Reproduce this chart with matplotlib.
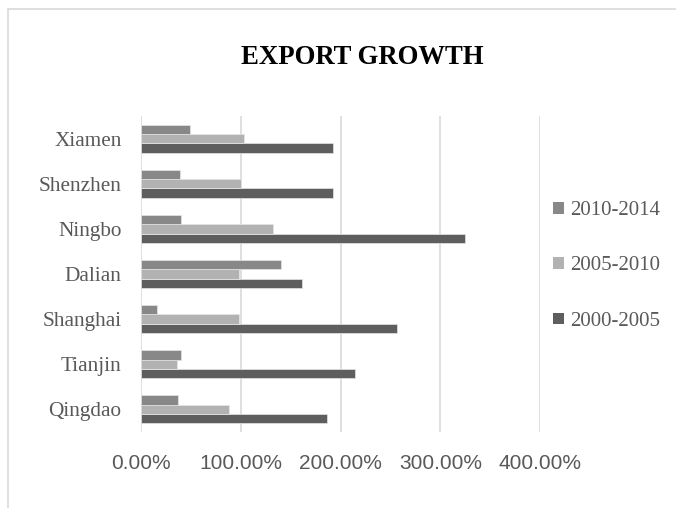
import numpy as np
import matplotlib
matplotlib.use("Agg")
import matplotlib.pyplot as plt
from matplotlib.patches import Rectangle, Patch
from matplotlib.ticker import FuncFormatter

cities = ["Qingdao", "Tianjin", "Shanghai", "Dalian", "Ningbo", "Shenzhen", "Xiamen"]
growth_2000_2005 = [186.6, 214.3, 256.3, 161.6, 324.6, 192.6, 192.6]
growth_2005_2010 = [88.6, 36.0, 98.3, 98.6, 132.6, 100.0, 103.6]
growth_2010_2014 = [36.6, 39.6, 15.6, 140.0, 39.6, 38.6, 49.6]
x_ticks = [0, 100, 200, 300, 400]

series = [
    ("2000-2005", growth_2000_2005, "#5e5e5e"),
    ("2005-2010", growth_2005_2010, "#b2b2b2"),
    ("2010-2014", growth_2010_2014, "#888888"),
]

W, H = 676, 508
fig = plt.figure(figsize=(W / 100, H / 100), dpi=100)
ax = fig.add_axes([141 / W, 1 - 432 / H, 399 / W, 316 / H])

serif = ["Liberation Serif", "DejaVu Serif"]
narrow = ["Liberation Sans Narrow", "Liberation Sans", "DejaVu Sans"]
txt_color = "#595959"

y = np.arange(len(cities))
h = 0.207
for i, (name, vals, col) in enumerate(series):
    ax.barh(y + (i - 1) * h, vals, height=h, color=col,
            edgecolor="#e6e6e6", linewidth=0.5, zorder=3)

ax.set_xlim(0, 400)
ax.set_ylim(-0.5, len(cities) - 0.5)
ax.set_xticks(x_ticks)
ax.xaxis.set_major_formatter(FuncFormatter(lambda v, p: f"{v:.2f}%"))
ax.set_yticks(y)
ax.set_yticklabels(cities)
ax.grid(axis="x", color="#d9d9d9", linewidth=1.2, zorder=0)
ax.set_axisbelow(True)
for s in ax.spines.values():
    s.set_visible(False)
ax.tick_params(axis="both", length=0)
ax.tick_params(axis="x", pad=16, labelcolor=txt_color)
ax.tick_params(axis="y", pad=14, labelcolor=txt_color)
for lab in ax.get_xticklabels():
    lab.set_family(narrow)
    lab.set_fontsize(15)
for lab in ax.get_yticklabels():
    lab.set_family(serif)
    lab.set_fontsize(15.3)

fig.text(362 / W, 1 - 58 / H, "EXPORT GROWTH", family=serif, fontsize=19.3,
         fontweight="bold", color="black", ha="center", va="center")

handles = [Patch(facecolor=c, edgecolor="none", label=n) for n, _, c in series[::-1]]
leg = fig.legend(handles=handles, loc="center left", bbox_to_anchor=(545 / W, 1 - 266 / H),
                 frameon=False, prop={"family": serif, "size": 15},
                 handlelength=0.5, handleheight=0.5, handletextpad=0.3,
                 labelspacing=1.75, borderaxespad=0)
for t in leg.get_texts():
    t.set_color(txt_color)

fig.patches.append(Rectangle((7.5 / W, -0.5), 2, 1.5 - 9 / H, transform=fig.transFigure,
                             fill=False, edgecolor="#d9d9d9", linewidth=1.2))

fig.savefig("out.png", dpi=100)
